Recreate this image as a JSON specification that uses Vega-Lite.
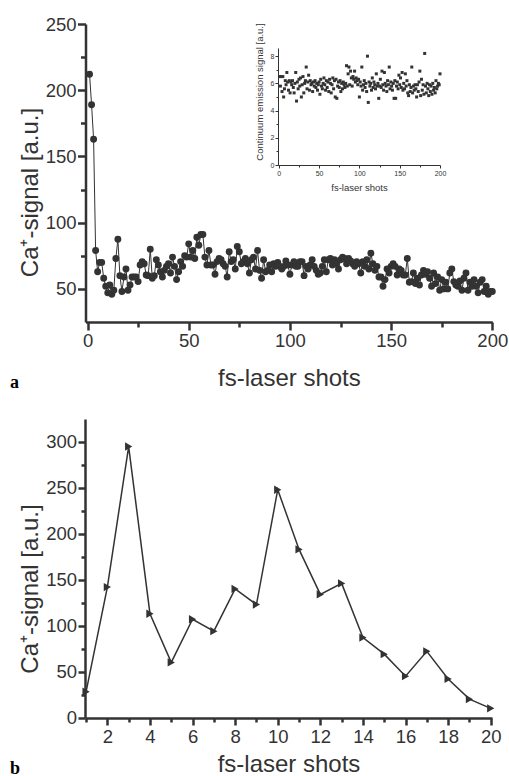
{
 "$schema": "https://vega.github.io/schema/vega-lite/v6.json",
 "width": 509, "height": 776, "padding": 0, "autosize": {"type": "none"},
 "background": "white",
 "config": {
  "view": {"stroke": null},
  "axis": {"grid": false, "labelFont": "Liberation Sans, Arial, sans-serif", "titleFont": "Liberation Sans, Arial, sans-serif",
   "labelColor": "#333", "titleColor": "#333", "domainColor": "#333", "tickColor": "#333", "titleFontWeight": "normal",
   "labelOverlap": false, "labelFlush": false}
 },
 "title": {"text": "a", "subtitle": "b", "orient": "top", "anchor": "start", "frame": "group", "font": "Liberation Serif", "fontSize": 18, "fontWeight": "bold", "color": "#000", "subtitleFont": "Liberation Serif", "subtitleFontSize": 18, "subtitleFontWeight": "bold", "subtitleColor": "#000", "subtitlePadding": 368, "baseline": "alphabetic", "dx": 10, "dy": 792, "offset": 0},
 "datasets": {
  "main": [
   {"shot":1,"signal":212},{"shot":2,"signal":189},{"shot":3,"signal":163},{"shot":4,"signal":79},{"shot":5,"signal":63},{"shot":6,"signal":70},{"shot":7,"signal":70},{"shot":8,"signal":58},{"shot":9,"signal":52},{"shot":10,"signal":47},
   {"shot":11,"signal":53},{"shot":12,"signal":46},{"shot":13,"signal":49},{"shot":14,"signal":73},{"shot":15,"signal":87.5},{"shot":16,"signal":60},{"shot":17,"signal":48},{"shot":18,"signal":59},{"shot":19,"signal":65},{"shot":20,"signal":49},
   {"shot":21,"signal":53},{"shot":22,"signal":59},{"shot":23,"signal":59},{"shot":24,"signal":59},{"shot":25,"signal":55.5},{"shot":26,"signal":68},{"shot":27,"signal":70.6},{"shot":28,"signal":69},{"shot":29,"signal":60.5},{"shot":30,"signal":60},
   {"shot":31,"signal":80},{"shot":32,"signal":58},{"shot":33,"signal":60},{"shot":34,"signal":72},{"shot":35,"signal":68},{"shot":36,"signal":63},{"shot":37,"signal":59},{"shot":38,"signal":64},{"shot":39,"signal":67},{"shot":40,"signal":69},
   {"shot":41,"signal":62},{"shot":42,"signal":74},{"shot":43,"signal":67},{"shot":44,"signal":57},{"shot":45,"signal":63},{"shot":46,"signal":70.6},{"shot":47,"signal":67},{"shot":48,"signal":75},{"shot":49,"signal":74},{"shot":50,"signal":84},
   {"shot":51,"signal":74},{"shot":52,"signal":79},{"shot":53,"signal":73},{"shot":54,"signal":89},{"shot":55,"signal":83},{"shot":56,"signal":91},{"shot":57,"signal":91},{"shot":58,"signal":74},{"shot":59,"signal":68},{"shot":60,"signal":79},
   {"shot":61,"signal":68},{"shot":62,"signal":68},{"shot":63,"signal":61},{"shot":64,"signal":70.6},{"shot":65,"signal":73},{"shot":66,"signal":72},{"shot":67,"signal":69},{"shot":68,"signal":67},{"shot":69,"signal":59},{"shot":70,"signal":78},
   {"shot":71,"signal":70.6},{"shot":72,"signal":72},{"shot":73,"signal":65},{"shot":74,"signal":82},{"shot":75,"signal":78},{"shot":76,"signal":69},{"shot":77,"signal":70.6},{"shot":78,"signal":73},{"shot":79,"signal":69},{"shot":80,"signal":62},
   {"shot":81,"signal":72},{"shot":82,"signal":74},{"shot":83,"signal":65},{"shot":84,"signal":79},{"shot":85,"signal":64},{"shot":86,"signal":58},{"shot":87,"signal":72},{"shot":88,"signal":63},{"shot":89,"signal":64},{"shot":90,"signal":68},
   {"shot":91,"signal":63},{"shot":92,"signal":69},{"shot":93,"signal":67},{"shot":94,"signal":70},{"shot":95,"signal":67},{"shot":96,"signal":65},{"shot":97,"signal":67},{"shot":98,"signal":71},{"shot":99,"signal":68},{"shot":100,"signal":61},
   {"shot":101,"signal":68},{"shot":102,"signal":70.6},{"shot":103,"signal":67},{"shot":104,"signal":67},{"shot":105,"signal":70.6},{"shot":106,"signal":70.6},{"shot":107,"signal":60},{"shot":108,"signal":67},{"shot":109,"signal":65},{"shot":110,"signal":68},
   {"shot":111,"signal":72},{"shot":112,"signal":67},{"shot":113,"signal":64},{"shot":114,"signal":61},{"shot":115,"signal":62},{"shot":116,"signal":67},{"shot":117,"signal":72},{"shot":118,"signal":63},{"shot":119,"signal":72},{"shot":120,"signal":73},
   {"shot":121,"signal":68},{"shot":122,"signal":72},{"shot":123,"signal":69},{"shot":124,"signal":65},{"shot":125,"signal":72},{"shot":126,"signal":74},{"shot":127,"signal":73},{"shot":128,"signal":69},{"shot":129,"signal":73},{"shot":130,"signal":71},
   {"shot":131,"signal":69},{"shot":132,"signal":67},{"shot":133,"signal":70.6},{"shot":134,"signal":69},{"shot":135,"signal":62},{"shot":136,"signal":70.6},{"shot":137,"signal":67},{"shot":138,"signal":72},{"shot":139,"signal":65},{"shot":140,"signal":77},
   {"shot":141,"signal":69},{"shot":142,"signal":64},{"shot":143,"signal":67},{"shot":144,"signal":59},{"shot":145,"signal":59},{"shot":146,"signal":52},{"shot":147,"signal":57},{"shot":148,"signal":65},{"shot":149,"signal":62},{"shot":150,"signal":67},
   {"shot":151,"signal":69},{"shot":152,"signal":67},{"shot":153,"signal":60.5},{"shot":154,"signal":65},{"shot":155,"signal":64},{"shot":156,"signal":60.5},{"shot":157,"signal":60.5},{"shot":158,"signal":73},{"shot":159,"signal":55},{"shot":160,"signal":55.5},
   {"shot":161,"signal":62},{"shot":162,"signal":54},{"shot":163,"signal":58},{"shot":164,"signal":53},{"shot":165,"signal":60.5},{"shot":166,"signal":64},{"shot":167,"signal":61},{"shot":168,"signal":63},{"shot":169,"signal":58},{"shot":170,"signal":52},
   {"shot":171,"signal":62},{"shot":172,"signal":54},{"shot":173,"signal":59},{"shot":174,"signal":49},{"shot":175,"signal":57},{"shot":176,"signal":50},{"shot":177,"signal":55},{"shot":178,"signal":50},{"shot":179,"signal":62},{"shot":180,"signal":65},
   {"shot":181,"signal":55.5},{"shot":182,"signal":53},{"shot":183,"signal":52},{"shot":184,"signal":56},{"shot":185,"signal":49},{"shot":186,"signal":58},{"shot":187,"signal":62},{"shot":188,"signal":49},{"shot":189,"signal":55},{"shot":190,"signal":52},
   {"shot":191,"signal":57},{"shot":192,"signal":52},{"shot":193,"signal":47},{"shot":194,"signal":55},{"shot":195,"signal":57},{"shot":196,"signal":48},{"shot":197,"signal":52},{"shot":198,"signal":46},{"shot":199,"signal":48},{"shot":200,"signal":48}
  ],
  "inset": [
   {"shot":1,"emission":6.5},{"shot":2,"emission":5.8},{"shot":3,"emission":6.5},{"shot":4,"emission":5.4},{"shot":5,"emission":6.5},{"shot":6,"emission":5.0},{"shot":7,"emission":5.6},{"shot":8,"emission":6.2},{"shot":9,"emission":5.9},{"shot":10,"emission":6.8},
   {"shot":11,"emission":6.1},{"shot":12,"emission":5.5},{"shot":13,"emission":6.2},{"shot":14,"emission":5.3},{"shot":15,"emission":6.1},{"shot":16,"emission":5.9},{"shot":17,"emission":6.2},{"shot":18,"emission":5.7},{"shot":19,"emission":5.3},{"shot":20,"emission":6.0},
   {"shot":21,"emission":6.8},{"shot":22,"emission":4.7},{"shot":23,"emission":6.1},{"shot":24,"emission":5.6},{"shot":25,"emission":6.3},{"shot":26,"emission":5.8},{"shot":27,"emission":6.4},{"shot":28,"emission":5.0},{"shot":29,"emission":5.9},{"shot":30,"emission":6.5},
   {"shot":31,"emission":5.3},{"shot":32,"emission":6.0},{"shot":33,"emission":6.2},{"shot":34,"emission":7.2},{"shot":35,"emission":5.6},{"shot":36,"emission":6.1},{"shot":37,"emission":6.6},{"shot":38,"emission":5.5},{"shot":39,"emission":6.2},{"shot":40,"emission":5.9},
   {"shot":41,"emission":6.0},{"shot":42,"emission":5.4},{"shot":43,"emission":6.1},{"shot":44,"emission":5.8},{"shot":45,"emission":6.2},{"shot":46,"emission":5.7},{"shot":47,"emission":6.0},{"shot":48,"emission":5.5},{"shot":49,"emission":5.9},{"shot":50,"emission":6.1},
   {"shot":51,"emission":5.2},{"shot":52,"emission":6.3},{"shot":53,"emission":5.8},{"shot":54,"emission":5.6},{"shot":55,"emission":6.0},{"shot":56,"emission":6.4},{"shot":57,"emission":5.9},{"shot":58,"emission":5.5},{"shot":59,"emission":6.2},{"shot":60,"emission":5.7},
   {"shot":61,"emission":6.1},{"shot":62,"emission":5.4},{"shot":63,"emission":6.3},{"shot":64,"emission":6.0},{"shot":65,"emission":5.3},{"shot":66,"emission":5.9},{"shot":67,"emission":6.4},{"shot":68,"emission":5.6},{"shot":69,"emission":6.2},{"shot":70,"emission":5.0},
   {"shot":71,"emission":6.3},{"shot":72,"emission":4.9},{"shot":73,"emission":5.8},{"shot":74,"emission":6.1},{"shot":75,"emission":5.7},{"shot":76,"emission":6.2},{"shot":77,"emission":5.4},{"shot":78,"emission":6.0},{"shot":79,"emission":5.6},{"shot":80,"emission":6.1},
   {"shot":81,"emission":5.9},{"shot":82,"emission":5.7},{"shot":83,"emission":6.0},{"shot":84,"emission":7.3},{"shot":85,"emission":5.8},{"shot":86,"emission":6.7},{"shot":87,"emission":7.2},{"shot":88,"emission":5.9},{"shot":89,"emission":6.9},{"shot":90,"emission":6.4},
   {"shot":91,"emission":5.8},{"shot":92,"emission":6.5},{"shot":93,"emission":6.3},{"shot":94,"emission":6.9},{"shot":95,"emission":6.1},{"shot":96,"emission":6.4},{"shot":97,"emission":6.2},{"shot":98,"emission":5.9},{"shot":99,"emission":6.3},{"shot":100,"emission":5.0},
   {"shot":101,"emission":6.1},{"shot":102,"emission":5.8},{"shot":103,"emission":7.2},{"shot":104,"emission":5.5},{"shot":105,"emission":5.9},{"shot":106,"emission":6.2},{"shot":107,"emission":5.7},{"shot":108,"emission":6.0},{"shot":109,"emission":5.4},{"shot":110,"emission":8.0},
   {"shot":111,"emission":4.6},{"shot":112,"emission":6.1},{"shot":113,"emission":5.8},{"shot":114,"emission":6.0},{"shot":115,"emission":5.5},{"shot":116,"emission":6.4},{"shot":117,"emission":5.7},{"shot":118,"emission":6.1},{"shot":119,"emission":5.9},{"shot":120,"emission":5.6},
   {"shot":121,"emission":6.7},{"shot":122,"emission":5.8},{"shot":123,"emission":6.0},{"shot":124,"emission":4.9},{"shot":125,"emission":5.8},{"shot":126,"emission":6.3},{"shot":127,"emission":5.7},{"shot":128,"emission":6.9},{"shot":129,"emission":5.9},{"shot":130,"emission":5.5},
   {"shot":131,"emission":6.8},{"shot":132,"emission":6.0},{"shot":133,"emission":5.8},{"shot":134,"emission":5.4},{"shot":135,"emission":6.2},{"shot":136,"emission":5.9},{"shot":137,"emission":7.2},{"shot":138,"emission":5.6},{"shot":139,"emission":6.1},{"shot":140,"emission":5.8},
   {"shot":141,"emission":5.5},{"shot":142,"emission":6.0},{"shot":143,"emission":4.9},{"shot":144,"emission":6.2},{"shot":145,"emission":4.9},{"shot":146,"emission":5.8},{"shot":147,"emission":6.1},{"shot":148,"emission":5.6},{"shot":149,"emission":6.6},{"shot":150,"emission":5.9},
   {"shot":151,"emission":6.4},{"shot":152,"emission":5.7},{"shot":153,"emission":6.8},{"shot":154,"emission":5.5},{"shot":155,"emission":6.0},{"shot":156,"emission":5.6},{"shot":157,"emission":6.7},{"shot":158,"emission":5.8},{"shot":159,"emission":6.2},{"shot":160,"emission":5.3},
   {"shot":161,"emission":5.1},{"shot":162,"emission":5.9},{"shot":163,"emission":5.4},{"shot":164,"emission":5.7},{"shot":165,"emission":7.2},{"shot":166,"emission":5.3},{"shot":167,"emission":5.8},{"shot":168,"emission":5.5},{"shot":169,"emission":5.9},{"shot":170,"emission":5.6},
   {"shot":171,"emission":5.0},{"shot":172,"emission":5.9},{"shot":173,"emission":5.4},{"shot":174,"emission":6.1},{"shot":175,"emission":6.9},{"shot":176,"emission":5.1},{"shot":177,"emission":6.3},{"shot":178,"emission":5.5},{"shot":179,"emission":5.9},{"shot":180,"emission":5.2},
   {"shot":181,"emission":8.2},{"shot":182,"emission":5.8},{"shot":183,"emission":5.3},{"shot":184,"emission":6.0},{"shot":185,"emission":5.6},{"shot":186,"emission":5.1},{"shot":187,"emission":5.9},{"shot":188,"emission":5.4},{"shot":189,"emission":5.8},{"shot":190,"emission":5.2},
   {"shot":191,"emission":6.0},{"shot":192,"emission":5.5},{"shot":193,"emission":5.7},{"shot":194,"emission":5.3},{"shot":195,"emission":6.2},{"shot":196,"emission":5.6},{"shot":197,"emission":5.8},{"shot":198,"emission":6.0},{"shot":199,"emission":5.9},{"shot":200,"emission":6.7}
  ],
  "bottom": [
   {"shot":1,"signal":28},{"shot":2,"signal":142},{"shot":3,"signal":295},{"shot":4,"signal":113},{"shot":5,"signal":60},{"shot":6,"signal":107},{"shot":7,"signal":94},{"shot":8,"signal":140},{"shot":9,"signal":123},{"shot":10,"signal":248},
   {"shot":11,"signal":183},{"shot":12,"signal":134},{"shot":13,"signal":146},{"shot":14,"signal":87},{"shot":15,"signal":69},{"shot":16,"signal":45},{"shot":17,"signal":72},{"shot":18,"signal":42},{"shot":19,"signal":20},{"shot":20,"signal":10}
  ]
 },
 "layer": [
  {
   "data": {"name": "main"},
   "mark": {"type": "line", "color": "#333", "strokeWidth": 1, "point": {"filled": true, "size": 48, "color": "#333", "opacity": 1}},
   "encoding": {
    "x": {"field": "shot", "type": "quantitative",
     "scale": {"domain": [-1, 200], "range": [85.5, 492.3], "nice": false, "zero": false},
     "axis": {"orient": "bottom", "offset": -454, "values": [0,25,50,75,100,125,150,175,200],
      "labelExpr": "datum.value % 50 === 0 ? datum.label : ''",
      "tickSize": {"condition": {"test": "datum.value % 50 === 0", "value": 8}, "value": 5},
      "tickWidth": 2.5, "domainWidth": 2.5, "labelFontSize": 18.5, "labelPadding": 1,
      "title": "fs-laser shots", "titleFontSize": 24, "titleBaseline": "alphabetic", "titleY": 63}},
    "y": {"field": "signal", "type": "quantitative",
     "scale": {"domain": [25, 250], "range": [322, 24], "nice": false, "zero": false},
     "axis": {"orient": "left", "offset": -85.5, "values": [50,75,100,125,150,175,200,225,250],
      "labelExpr": "datum.value % 50 === 0 ? datum.label : ''",
      "tickSize": {"condition": {"test": "datum.value % 50 === 0", "value": 8}, "value": 5},
      "tickWidth": 2.5, "domainWidth": 2.5, "labelFontSize": 18.5, "labelPadding": 1.5,
      "title": "Ca⁺-signal [a.u.]", "titleFontSize": 24, "titleAngle": 270, "titleAlign": "center", "titleBaseline": "alphabetic", "titleX": -48, "titleY": 192}}
   }
  },
  {
   "data": {"name": "inset"},
   "mark": {"type": "point", "shape": "square", "filled": true, "size": 9, "color": "#333", "opacity": 1},
   "encoding": {
    "x": {"field": "shot", "type": "quantitative",
     "scale": {"domain": [-1, 200], "range": [278, 440], "nice": false, "zero": false},
     "axis": {"orient": "bottom", "offset": -611, "values": [0,25,50,75,100,125,150,175,200],
      "labelExpr": "datum.value % 50 === 0 ? datum.label : ''",
      "tickSize": {"condition": {"test": "datum.value % 50 === 0", "value": 3}, "value": 2},
      "tickWidth": 1, "domainWidth": 1, "labelFontSize": 7, "labelPadding": 1,
      "title": "fs-laser shots", "titleFontSize": 9.5, "titleBaseline": "alphabetic", "titleY": 25}},
    "y": {"field": "emission", "type": "quantitative",
     "scale": {"domain": [0, 8.6], "range": [165, 48], "nice": false, "zero": false},
     "axis": {"orient": "left", "offset": -278, "values": [0,1,2,3,4,5,6,7,8],
      "labelExpr": "datum.value % 2 === 0 ? datum.label : ''",
      "tickSize": {"condition": {"test": "datum.value % 2 === 0", "value": 3}, "value": 2},
      "tickWidth": 1, "domainWidth": 1, "labelFontSize": 7, "labelPadding": 1,
      "title": "Continuum emission signal [a.u.]", "titleFontSize": 9.5, "titleAngle": 270, "titleAlign": "center", "titleBaseline": "alphabetic", "titleX": -16, "titleY": 91.5}}
   }
  },
  {
   "data": {"name": "bottom"},
   "mark": {"type": "line", "color": "#333", "strokeWidth": 1.5, "point": {"shape": "triangle-right", "filled": true, "size": 70, "color": "#333", "opacity": 1}},
   "encoding": {
    "x": {"field": "shot", "type": "quantitative",
     "scale": {"domain": [0.95, 20.06], "range": [85, 492], "nice": false, "zero": false},
     "axis": {"orient": "bottom", "offset": -58, "values": [1,2,3,4,5,6,7,8,9,10,11,12,13,14,15,16,17,18,19,20],
      "labelExpr": "datum.value % 2 === 0 ? datum.label : ''",
      "tickSize": {"condition": {"test": "datum.value % 2 === 0", "value": 7}, "value": 4},
      "tickWidth": 2.5, "domainWidth": 2.5, "labelFontSize": 18.5, "labelPadding": 2,
      "title": "fs-laser shots", "titleFontSize": 24, "titleBaseline": "alphabetic", "titleY": 53}},
    "y": {"field": "signal", "type": "quantitative",
     "scale": {"domain": [0, 325], "range": [717.5, 419], "nice": false, "zero": false},
     "axis": {"orient": "left", "offset": -85, "values": [0,25,50,75,100,125,150,175,200,225,250,275,300],
      "labelExpr": "datum.value % 50 === 0 ? datum.label : ''",
      "tickSize": {"condition": {"test": "datum.value % 50 === 0", "value": 7}, "value": 4},
      "tickWidth": 2.5, "domainWidth": 2.5, "labelFontSize": 18.5, "labelPadding": 1.5,
      "title": "Ca⁺-signal [a.u.]", "titleFontSize": 24, "titleAngle": 270, "titleAlign": "center", "titleBaseline": "alphabetic", "titleX": -48, "titleY": 588.5}}
   }
  }
 ],
 "resolve": {"scale": {"x": "independent", "y": "independent"}, "axis": {"x": "independent", "y": "independent"}}
}
